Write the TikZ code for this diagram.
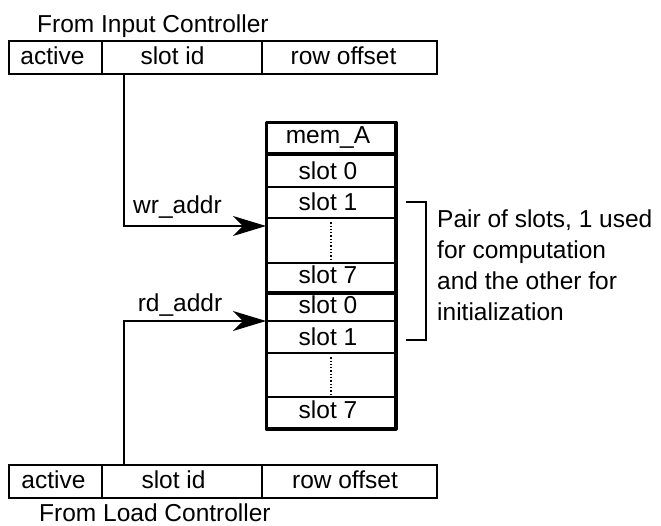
\documentclass[tikz,border=0pt]{standalone}
\usepackage{fontspec}
\setmainfont{Liberation Sans}
\usetikzlibrary{arrows.meta}
\begin{document}
\begin{tikzpicture}[x=1pt,y=-1pt,
  cell/.style={draw, line width=1.3pt, rectangle, inner sep=0pt, minimum height=33pt},
  txt/.style={inner sep=0pt, font=\fontsize{24.5}{31}\selectfont},
  memrow/.style={draw, line width=1.5pt, rectangle, inner sep=0pt, minimum width=128pt},
  thickln/.style={line width=3.5pt},
  thinln/.style={line width=1.3pt},
  dotln/.style={line width=1.3pt, dash pattern=on 1.3pt off 2pt},
  sig/.style={line width=1.5pt, -{Stealth[length=33pt,width=20pt,inset=10pt]}},
]
\useasboundingbox (0,0) rectangle (661,525);

% top register
\node[txt, anchor=base west] (fromin) at (37,32) {From Input Controller};
\node[cell, minimum width=93pt]  (tact)  at (55.5,57.5) {};
\node[cell, minimum width=160pt] (tslot) at (182,57.5) {};
\node[cell, minimum width=175pt] (trow)  at (349.5,57.5) {};
\node[txt, anchor=base] (tacttx)  at (52.5,64.3) {active};
\node[txt, anchor=base] (tslottx) at (172.5,64.3) {slot id};
\node[txt, anchor=base] (trowtx)  at (343.5,64.3) {row offset};

% bottom register
\node[cell, minimum width=93pt]  (bact)  at (55.5,481.5) {};
\node[cell, minimum width=160pt] (bslot) at (182,481.5) {};
\node[cell, minimum width=175pt] (brow)  at (349.5,481.5) {};
\node[txt, anchor=base] (bacttx)  at (53.5,488.3) {active};
\node[txt, anchor=base] (bslottx) at (173.5,488.3) {slot id};
\node[txt, anchor=base] (browtx)  at (345,488.3) {row offset};
\node[txt, anchor=base west] (fromld) at (39,521) {From Load Controller};

% memory rows
\node[memrow, minimum height=30pt] (memA) at (331,138) {};
\node[memrow, minimum height=34pt] (s0a)  at (331,170) {};
\node[memrow, minimum height=31pt] (s1a)  at (331,202.5) {};
\node[memrow, minimum height=45pt] (dota) at (331,240.5) {};
\node[memrow, minimum height=29pt] (s7a)  at (331,277.5) {};
\node[memrow, minimum height=29pt] (s0b)  at (331,306.5) {};
\node[memrow, minimum height=32pt] (s1b)  at (331,337) {};
\node[memrow, minimum height=44pt] (dotb) at (331,375) {};
\node[memrow, minimum height=31pt] (s7b)  at (331,412.5) {};

\node[txt, anchor=base] (memAtx) at (328,143) {mem\_A};
\node[txt, anchor=base] (s0atx) at (328,179) {slot 0};
\node[txt, anchor=base] (s1atx) at (328,210) {slot 1};
\node[txt, anchor=base] (s7atx) at (328,283) {slot 7};
\node[txt, anchor=base] (s0btx) at (328,313) {slot 0};
\node[txt, anchor=base] (s1btx) at (328,345) {slot 1};
\node[txt, anchor=base] (s7btx) at (328,418) {slot 7};

\draw[dotln] ([yshift=-5pt]dota.north) -- (dota.south);
\draw[dotln] ([yshift=-5pt]dotb.north) -- (dotb.south);

\draw[thickln] (memA.south west) -- (memA.south east);
\draw[thickln] (s7a.south west) -- ([xshift=2pt]s7a.south east);
\draw[thickln, line join=round] (memA.north west) rectangle (s7b.south east);

% address connectors
\coordinate (wrsrc) at (124,74);
\coordinate (wrtgt) at (266,226);
\coordinate (rdsrc) at (124,465);
\coordinate (rdtgt) at (266,321);
\draw[sig] (wrsrc) |- (wrtgt);
\draw[sig] (rdsrc) |- (rdtgt);
\node[txt, anchor=base] (wrlbl) at (177.5,213) {wr\_addr};
\node[txt, anchor=base] (rdlbl) at (180,311.5) {rd\_addr};

% bracket
\coordinate (brA) at (406,202);
\coordinate (brB) at (426,202);
\coordinate (brC) at (426,340);
\coordinate (brD) at (406,340);
\draw[thinln] (brA) -- (brB) -- (brC) -- (brD);
\node[txt, anchor=north west, align=left] (note) at (437,210)
  {Pair of slots, 1 used\\for computation\\and the other for\\initialization};
\end{tikzpicture}
\end{document}
